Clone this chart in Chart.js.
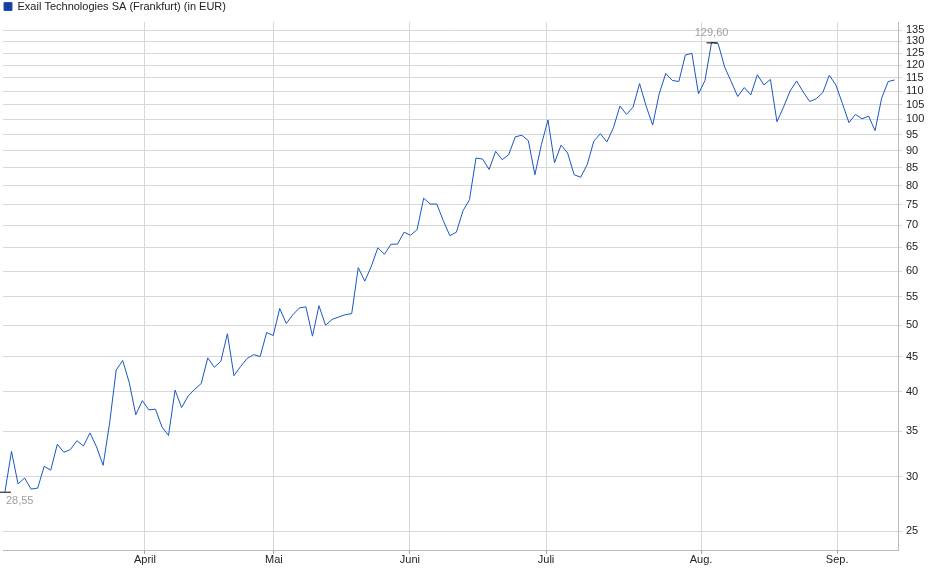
<!DOCTYPE html>
<html><head><meta charset="utf-8">
<script src="https://cdn.jsdelivr.net/npm/chart.js@4"></script>
<style>html,body{margin:0;padding:0;background:#fff}#w{width:940px;height:579px;position:relative}</style>
</head><body><div id="w"><canvas id="c"></canvas></div>
<script>
const seriesName = "Exail Technologies SA (Frankfurt) (in EUR)";
const prices = [28.55,32.7,29.3,29.9,28.8,28.9,31.1,30.7,33.5,32.6,32.9,33.9,33.3,34.8,33.2,31.2,36,43,44.4,41.2,37,38.8,37.6,37.7,35.5,34.5,40.2,37.9,39.4,40.3,41.1,44.8,43.4,44.3,48.6,42.2,43.5,44.7,45.3,45,48.8,48.3,52.9,50.3,51.8,53,53.2,48.2,53.4,50,51,51.4,51.8,52,60.7,58,61,64.9,63.5,65.7,65.7,68.4,67.7,69,76.7,75.2,75.2,71.1,67.6,68.4,73.5,76.3,87.8,87.5,84.5,89.8,87.3,88.8,94.3,94.8,93.1,83,91.9,99.8,86.4,91.7,89.3,83,82.3,85.9,92.9,95.3,92.7,97.2,104.6,101.7,104.2,112.8,104.6,98.1,109,116.7,114,113.6,124.2,124.9,109,114,129.6,129.1,119.3,113.6,108,111.3,108.6,116.2,112.3,114.4,99.2,104.2,110,113.8,109.7,106.2,107.2,109.4,116,112.3,105.5,98.9,101.7,100.2,101.1,96.3,107.4,113.6,114.2];
const monthLabels = ["April","Mai","Juni","Juli","Aug.","Sep."];
const monthPositions = [21.4,41.1,61.9,82.7,106.4,127.2];
const yTicks = [25,30,35,40,45,50,55,60,65,70,75,80,85,90,95,100,105,110,115,120,125,130,135];
const minLabel = "28,55", maxLabel = "129,60";

const pts = prices.map((v,i)=>({x:i,y:v}));
const iMin = prices.indexOf(Math.min(...prices)), iMax = prices.indexOf(Math.max(...prices));
const ann = {id:'ann',afterDatasetsDraw(ch){
  const {ctx,scales:{x,y}}=ch; ctx.save();
  ctx.font='11px Arial'; ctx.fillStyle='#a0a0a0';
  const a=[[iMin,minLabel,1],[iMax,maxLabel,-1]];
  for(const [i,t,d] of a){
    const px=x.getPixelForValue(i), py=y.getPixelForValue(prices[i]);
    ctx.strokeStyle='#000'; ctx.lineWidth=1; ctx.beginPath(); ctx.moveTo(px-5,py+0.5); ctx.lineTo(px+6,py+0.5); ctx.stroke();
    ctx.textAlign= i===0?'left':'center'; ctx.textBaseline=d>0?'top':'bottom';
    ctx.fillText(t, i===0?px+1:px, py+d*4);
  }
  ctx.restore();
}};
new Chart(document.getElementById('c'),{
  type:'line',
  data:{datasets:[{label:seriesName,data:pts,borderColor:'#1a56c4',backgroundColor:'#1a3d9a',borderWidth:1,pointRadius:0,tension:0}]},
  options:{responsive:true,maintainAspectRatio:false,animation:false,
    layout:{padding:{left:3,right:2,top:0,bottom:12}},
    plugins:{tooltip:{enabled:false},
      legend:{align:'start',labels:{boxWidth:8,boxHeight:8,padding:1,color:'#222',font:{family:'Arial',size:11}}}},
    scales:{
      x:{type:'linear',min:-0.3,max:136.5,
        afterBuildTicks(s){s.ticks=monthPositions.map(v=>({value:v}));},
        ticks:{autoSkip:false,maxRotation:0,color:'#222',font:{family:'Arial',size:11},padding:0,
          callback:(v)=>{const k=monthPositions.indexOf(v);return k>=0?monthLabels[k]:'';}},
        grid:{color:'#d8d8d8',tickLength:3,tickColor:'#999'},border:{color:'#bbb'}},
      y:{type:'logarithmic',position:'right',min:23.4,max:138.8,
        afterBuildTicks(s){s.ticks=yTicks.map(v=>({value:v}));},
        ticks:{autoSkip:false,color:'#222',font:{family:'Arial',size:11},padding:4,callback:v=>String(v)},
        grid:{color:'#d8d8d8',tickLength:4},border:{color:'#bbb'},afterFit(s){s.width=40;}}
    }},
  plugins:[ann]
});
</script></body></html>
